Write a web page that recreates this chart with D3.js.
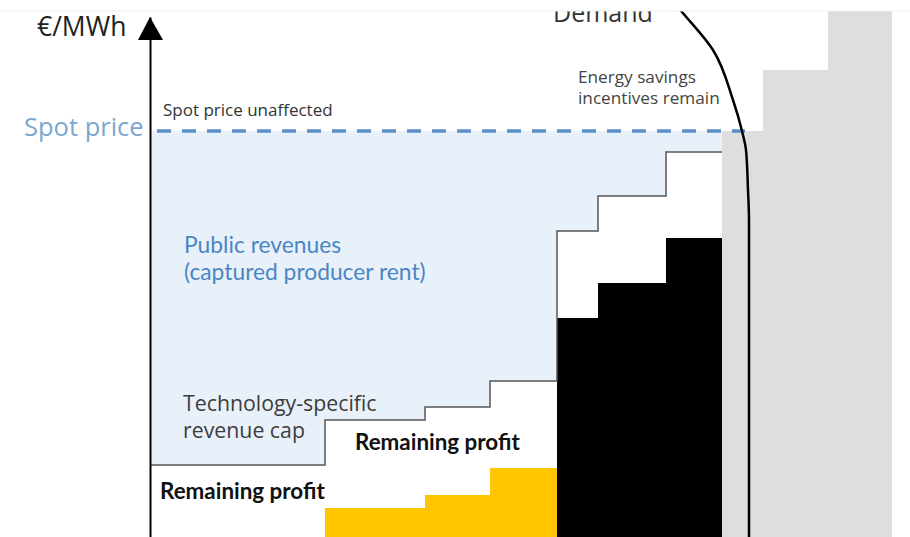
<!DOCTYPE html>
<html lang="en">
<head>
    <meta charset="UTF-8">
    <title>Revenue cap on inframarginal producers</title>
    <script src="https://d3js.org/d3.v7.min.js"></script>
    <style>
        body {
            margin: 0;
            background: #fff;
        }
        svg {
            display: block;
        }
        .seg {
            font-family: "Open Sans", sans-serif;
        }
        .cal {
            font-family: Lato, sans-serif;
        }
    </style>
</head>
<body>
    <svg id="chart" width="910" height="537"></svg>

    <script>
        // merit order blocks (capacity, arbitrary units)
        const blockWidths = [175, 100, 65, 67, 41, 68, 56];
        const revenueCap = [72, 117, 130, 156, 306, 341, 385];
        const marginalCost = [0, 29, 42, 69, 219, 254, 299];
        const costGroup = ["none", "low", "low", "low", "high", "high", "high"];

        // units above the spot price (not dispatched)
        const outsideWidths = [41, 65, 64];
        const outsidePrice = [406, 467, 545];

        const spotPrice = 406;

        // demand curve, [capacity, price]
        const demandCurve = [[522, 537], [532, 525], [563, 487], [583, 437], [592, 406],
                             [596, 387], [598, 347], [599, 317], [599, 0]];

        const width = 910, height = 537;
        const svg = d3.select("#chart");

        const x = d3.scaleLinear().domain([0, 742]).range([150, 892]);
        const y = d3.scaleLinear().domain([0, 520]).range([537, 17]);

        const colour = d3.scaleOrdinal()
            .domain(["none", "low", "high"])
            .range(["none", "#ffc600", "#000000"]);

        // cumulative block edges
        const edges = [0, ...d3.cumsum(blockWidths)];
        const blocks = blockWidths.map((w, i) => ({
            x0: edges[i], x1: edges[i + 1],
            cap: revenueCap[i], cost: marginalCost[i], group: costGroup[i]
        }));
        const lastEdge = edges[edges.length - 1];
        const outEdges = [lastEdge, ...d3.cumsum(outsideWidths).map(d => d + lastEdge)];
        const outside = outsideWidths.map((w, i) => ({ x0: outEdges[i], x1: outEdges[i + 1], price: outsidePrice[i] }));

        const g = svg.append("g").attr("clip-path", "url(#clipTop)");
        svg.append("clipPath").attr("id", "clipTop")
            .append("rect").attr("x", 0).attr("y", 11).attr("width", width).attr("height", height - 11);

        // grey blocks beyond the spot price
        g.selectAll(".out")
            .data(outside)
            .enter()
            .append("rect")
            .attr("x", d => x(d.x0))
            .attr("y", d => y(d.price))
            .attr("width", d => x(d.x1) - x(d.x0))
            .attr("height", d => y(0) - y(d.price))
            .attr("fill", "#dedede");

        // captured rent: between spot price and revenue cap
        const stepPts = blocks.map(d => [d.x0, d.cap]).concat([[lastEdge, revenueCap[revenueCap.length - 1]]]);
        g.append("path")
            .datum(stepPts)
            .attr("fill", "#e8f0f9")
            .attr("d", d3.area()
                .x(d => x(d[0]))
                .y0(d => y(d[1]))
                .y1(y(spotPrice))
                .curve(d3.curveStepAfter));

        // cost blocks
        g.selectAll(".cost")
            .data(blocks.filter(d => d.group !== "none"))
            .enter()
            .append("rect")
            .attr("x", d => x(d.x0))
            .attr("y", d => y(d.cost))
            .attr("width", d => x(d.x1) - x(d.x0))
            .attr("height", d => y(0) - y(d.cost))
            .attr("fill", d => colour(d.group));

        // revenue cap line
        g.append("path")
            .datum(stepPts)
            .attr("fill", "none")
            .attr("stroke", "#555")
            .attr("stroke-width", 1.5)
            .attr("d", d3.line()
                .x(d => x(d[0]))
                .y(d => y(d[1]))
                .curve(d3.curveStepAfter));

        // spot price line
        g.append("line")
            .attr("x1", x(7)).attr("x2", x(595))
            .attr("y1", y(spotPrice)).attr("y2", y(spotPrice))
            .attr("stroke", "#5b8fc7")
            .attr("stroke-width", 3.5)
            .attr("stroke-dasharray", "14 11");

        // demand
        g.append("path")
            .datum(demandCurve)
            .attr("fill", "none")
            .attr("stroke", "#000")
            .attr("stroke-width", 2.5)
            .attr("d", d3.line()
                .x(d => x(d[0]))
                .y(d => y(d[1]))
                .curve(d3.curveMonotoneY));

        // y axis with arrow
        const axis = svg.append("g")
            .attr("transform", `translate(${x(0)},0)`)
            .call(d3.axisLeft(y).tickValues([]).tickSizeOuter(0));
        axis.select(".domain").attr("stroke", "#000").attr("stroke-width", 2);
        svg.append("path")
            .attr("d", `M${x(0)},${y(520)} L${x(0) - 12},${y(497)} L${x(0) + 13},${y(497)} Z`)
            .attr("fill", "#000");

        // texts
        g.append("text").attr("class", "seg")
            .attr("x", 553).attr("y", 22)
            .attr("font-size", 25).attr("fill", "#333")
            .text("Demand");

        svg.append("text").attr("class", "seg")
            .attr("x", 37).attr("y", 36)
            .attr("font-size", 26.5).attr("fill", "#222")
            .text("€/MWh");

        svg.append("text").attr("class", "seg")
            .attr("x", 24).attr("y", 136)
            .attr("font-size", 25.5).attr("fill", "#7aa7d0")
            .text("Spot price");

        svg.append("text").attr("class", "seg")
            .attr("x", 163).attr("y", 116)
            .attr("font-size", 17).attr("fill", "#333")
            .text("Spot price unaffected");

        const energy = svg.append("text").attr("class", "seg")
            .attr("font-size", 17.2).attr("fill", "#444");
        energy.append("tspan").attr("x", 578).attr("y", 83).text("Energy savings");
        energy.append("tspan").attr("x", 578).attr("y", 104).text("incentives remain");

        const pub = svg.append("text").attr("class", "cal")
            .attr("font-size", 22.8).attr("fill", "#4a86c5");
        pub.append("tspan").attr("x", 184).attr("y", 253).text("Public revenues");
        pub.append("tspan").attr("x", 184).attr("y", 280).text("(captured producer rent)");

        const tech = svg.append("text").attr("class", "seg")
            .attr("font-size", 21.3).attr("fill", "#3c3c3c");
        tech.append("tspan").attr("x", 183).attr("y", 411).text("Technology-specific");
        tech.append("tspan").attr("x", 183).attr("y", 438).text("revenue cap");

        svg.append("text").attr("class", "cal")
            .attr("x", 355).attr("y", 450)
            .attr("font-size", 22.4).attr("font-weight", "bold").attr("fill", "#111")
            .text("Remaining profit");

        svg.append("text").attr("class", "cal")
            .attr("x", 160).attr("y", 499)
            .attr("font-size", 22.4).attr("font-weight", "bold").attr("fill", "#111")
            .text("Remaining profit");

        // faint top band edge
        svg.append("line")
            .attr("x1", 0).attr("x2", width).attr("y1", 11).attr("y2", 11)
            .attr("stroke", "#f0f0f0");
    </script>
</body>
</html>
